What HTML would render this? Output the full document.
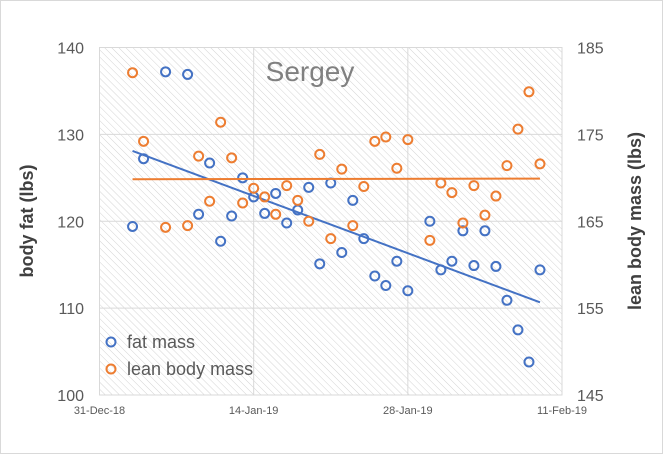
<!DOCTYPE html>
<html><head><meta charset="utf-8"><style>
html,body{margin:0;padding:0;background:#fff}
svg{display:block;font-family:"Liberation Sans",sans-serif}
</style></head><body>
<svg id="chart" width="663" height="454">
<defs><pattern id="hatch" width="5" height="5" patternUnits="userSpaceOnUse" patternTransform="rotate(-45)">
<line x1="0" y1="0" x2="0" y2="5" stroke="#d4d4d4" stroke-width="1"/></pattern></defs>
<rect x="0.5" y="0.5" width="662" height="453" fill="#fff" stroke="#d9d9d9"/>
<rect x="99.5" y="47.5" width="462.5" height="347.5" fill="url(#hatch)" stroke="#d9d9d9"/>
<g id="grid"></g><g id="ticks"></g><g id="marks"></g>
<text x="310" y="81" font-size="28" fill="#808080" text-anchor="middle">Sergey</text>
<text transform="translate(33,221) rotate(-90)" font-size="18" font-weight="bold" fill="#404040" text-anchor="middle">body fat (lbs)</text>
<text transform="translate(641,221) rotate(-90)" font-size="18" font-weight="bold" fill="#404040" text-anchor="middle">lean body mass (lbs)</text>
<g>
<circle cx="111" cy="342" r="4.5" fill="none" stroke="#4472c4" stroke-width="2"/>
<text x="127" y="348" font-size="18" fill="#595959">fat mass</text>
<circle cx="111" cy="369" r="4.5" fill="none" stroke="#ed7d31" stroke-width="2"/>
<text x="127" y="375" font-size="18" fill="#595959">lean body mass</text>
</g>
</svg>
<script>
const fatDays=[3,4,6,8,9,10,11,12,13,14,15,16,17,18,19,20,21,22,23,24,25,26,27,28,30,31,32,33,34,35,36,37,38,39,40];
const fatValues=[119.4,127.2,137.2,136.9,120.8,126.7,117.7,120.6,125,122.8,120.9,123.2,119.8,121.3,123.9,115.1,124.4,116.4,122.4,118,113.7,112.6,115.4,112,120,114.4,115.4,118.9,114.9,118.9,114.8,110.9,107.5,103.8,114.4];
const leanDays=[3,4,6,8,9,10,11,12,13,14,15,16,17,18,19,20,21,22,23,24,25,26,27,28,30,31,32,33,34,35,36,37,38,39,40];
const leanValues=[182.1,174.2,164.3,164.5,172.5,167.3,176.4,172.3,167.1,168.8,167.8,165.8,169.1,167.4,165,172.7,163,171,164.5,169,174.2,174.7,171.1,174.4,162.8,169.4,168.3,164.8,169.1,165.7,167.9,171.4,175.6,179.9,171.6];
const xTickDays=[0,14,28,42];
const xTickLabels=["31-Dec-18","14-Jan-19","28-Jan-19","11-Feb-19"];
const leftTicks=[100,110,120,130,140];
const rightTicks=[145,155,165,175,185];

const NS="http://www.w3.org/2000/svg";
const X0=99.5,X1=562,Y0=395,Y1=47.5;
const x=d=>X0+(X1-X0)*d/42;
const yL=v=>Y0-(Y0-Y1)*(v-100)/40;
const yR=v=>Y0-(Y0-Y1)*(v-145)/40;
function mk(tag,attrs,parent){const e=document.createElementNS(NS,tag);for(const k in attrs)e.setAttribute(k,attrs[k]);parent.appendChild(e);return e;}
const grid=document.getElementById('grid'),ticks=document.getElementById('ticks'),marks=document.getElementById('marks');
leftTicks.forEach((v,i)=>{
  const g=mk('line',{x1:X0,x2:X1,y1:yL(v),y2:yL(v),stroke:'#d9d9d9'},grid);
  
  
  const t=mk('text',{x:84,y:yL(v)+6,'font-size':16,fill:'#595959','text-anchor':'end'},ticks);
  t.textContent=v;
  
  
  const r=mk('text',{x:577,y:yR(rightTicks[i])+6,'font-size':16,fill:'#595959'},ticks);
  r.textContent=rightTicks[i];
  
  
});
xTickDays.forEach((d,i)=>{
  const g=mk('line',{x1:x(d),x2:x(d),y1:Y1,y2:Y0,stroke:'#d9d9d9'},grid);
  
  
  const t=mk('text',{x:x(d),y:414,'font-size':11,fill:'#595959','text-anchor':'middle'},ticks);
  t.textContent=xTickLabels[i];
  
  
});
function reg(xs,ys){const n=xs.length;let sx=0,sy=0,sxx=0,sxy=0;for(let i=0;i<n;i++){sx+=xs[i];sy+=ys[i];sxx+=xs[i]*xs[i];sxy+=xs[i]*ys[i];}const b=(n*sxy-sx*sy)/(n*sxx-sx*sx);return [b,(sy-b*sx)/n];}
function series(days,vals,yf,color,name){
  const [b,a]=reg(days,vals);const d0=Math.min(...days),d1=Math.max(...days);
  const l=mk('line',{x1:x(d0),y1:yf(a+b*d0),x2:x(d1),y2:yf(a+b*d1),stroke:color,'stroke-width':2},marks);
  
  
  days.forEach((d,i)=>{
    const c=mk('circle',{cx:x(d),cy:yf(vals[i]),r:4.5,fill:'none',stroke:color,'stroke-width':2},marks);
    
    
  });
}
series(fatDays,fatValues,yL,'#4472c4','fat-mass');
series(leanDays,leanValues,yR,'#ed7d31','lean-body-mass');
</script>
</body></html>
